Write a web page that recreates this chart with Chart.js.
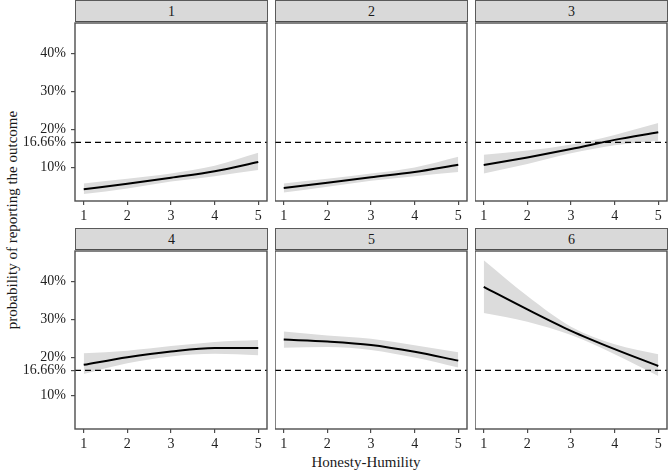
<!DOCTYPE html>
<html>
<head>
<meta charset="utf-8">
<script src="https://cdn.jsdelivr.net/npm/chart.js@4/dist/chart.umd.min.js"></script>
<style>
  body { margin: 0; background: #fff; }
  #wrap { position: relative; width: 668px; height: 470px; font-family: "Liberation Serif", "DejaVu Serif", serif; color: #1a1a1a; }
  canvas { position: absolute; }
  .strip { position: absolute; height: 22px; background: #d9d9d9; border: 1px solid #5a5a5a; border-bottom: 1.5px solid #4d4d4d; box-sizing: border-box; text-align: center; font-size: 14px; line-height: 22px; }
  .title { position: absolute; font-size: 15px; white-space: nowrap; }
</style>
</head>
<body>
<div id="wrap">
  <div class="title" id="xtitle" style="left:366px; top:462px; transform:translate(-50%,-50%);">Honesty-Humility</div>
  <div class="title" id="ytitle" style="left:12px; top:220px; transform:translate(-50%,-50%) rotate(-90deg);">probability of reporting the outcome</div>
</div>
<script>
// ---- data ----
const panels = ['1', '2', '3', '4', '5', '6'];
const hh = [1, 2, 3, 4, 5];            // Honesty-Humility
const xTicks = [1, 2, 3, 4, 5];
const yTicks = [10, 16.66, 20, 30, 40];
const chance = 16.66;

// predicted probability (%) per panel, with lower / upper band
const fit = [
  [4.4, 5.8, 7.4, 9.1, 11.5],
  [4.7, 6.1, 7.5, 8.9, 10.8],
  [10.7, 12.7, 14.9, 17.3, 19.3],
  [18.1, 20.1, 21.6, 22.5, 22.5],
  [24.7, 24.2, 23.3, 21.5, 19.2],
  [38.5, 32.6, 27.0, 22.2, 17.8]
];
const lower = [
  [3.1, 4.6, 6.4, 7.8, 9.4],
  [3.5, 5.0, 6.6, 7.8, 8.9],
  [8.5, 11.0, 13.8, 15.9, 17.1],
  [15.7, 18.5, 20.3, 21.0, 20.6],
  [22.6, 22.8, 22.0, 20.0, 17.4],
  [31.7, 29.4, 25.9, 20.9, 15.2]
];
const upper = [
  [5.9, 7.1, 8.5, 10.5, 13.9],
  [5.9, 7.1, 8.5, 10.1, 12.9],
  [13.4, 14.5, 16.1, 18.6, 21.7],
  [21.1, 21.8, 23.0, 24.1, 24.6],
  [26.8, 25.8, 24.9, 23.2, 21.4],
  [45.5, 36.1, 28.1, 23.5, 20.9]
];

// ---- layout ----
const colLeft = [75, 275, 475];
const rowTop = [23, 251];
const plotW = 192, plotH = 178;
const yAxisW = 75, xAxisH = 30, pad = 2;
const tickFont = { family: '"Liberation Serif", serif', size: 14 };

const toPts = arr => arr.map((v, i) => ({ x: hh[i], y: v }));

// draws the panel border and the dashed 16.66% line
const panelDeco = {
  id: 'panelDeco',
  afterDatasetsDraw(chart) {
    const { ctx, chartArea: a, scales } = chart;
    const y = scales.y.getPixelForValue(chance);
    ctx.save();
    ctx.strokeStyle = '#000';
    ctx.lineWidth = 1.2;
    ctx.setLineDash([6, 4]);
    ctx.beginPath();
    ctx.moveTo(a.left, y);
    ctx.lineTo(a.right, y);
    ctx.stroke();
    ctx.setLineDash([]);
    ctx.strokeStyle = '#4d4d4d';
    ctx.lineWidth = 1.4;
    ctx.strokeRect(a.left, a.top, a.right - a.left, a.bottom - a.top);
    ctx.restore();
  }
};

const wrap = document.getElementById('wrap');

function drawPanels() {
  panels.forEach((name, k) => {
    const col = k % 3, row = Math.floor(k / 3);
    const first = col === 0;

    const strip = document.createElement('div');
    strip.className = 'strip';
    strip.style.left = colLeft[col] + 'px';
    strip.style.top = (rowTop[row] - 23) + 'px';
    strip.style.width = (plotW + 1) + 'px';
    strip.textContent = name;
    wrap.appendChild(strip);

    const cv = document.createElement('canvas');
    cv.width = (first ? yAxisW : 0) + plotW + pad;
    cv.height = plotH + xAxisH + pad;
    cv.style.left = (first ? 0 : colLeft[col]) + 'px';
    cv.style.top = (rowTop[row] - pad) + 'px';
    wrap.appendChild(cv);

    new Chart(cv.getContext('2d'), {
      type: 'line',
      data: {
        datasets: [
          { data: toPts(fit[k]), borderColor: '#000', borderWidth: 2, pointRadius: 0, fill: false, cubicInterpolationMode: 'monotone' },
          { data: toPts(upper[k]), borderWidth: 0, pointRadius: 0, backgroundColor: '#dcdcdc', fill: '+1', cubicInterpolationMode: 'monotone' },
          { data: toPts(lower[k]), borderWidth: 0, pointRadius: 0, fill: false, cubicInterpolationMode: 'monotone' }
        ]
      },
      options: {
        responsive: false,
        animation: false,
        layout: { padding: { top: pad, right: pad, left: 0, bottom: 0 } },
        plugins: { legend: { display: false }, tooltip: { enabled: false } },
        scales: {
          x: {
            type: 'linear', min: 0.8, max: 5.2,
            afterBuildTicks: s => { s.ticks = xTicks.map(v => ({ value: v })); },
            afterFit: s => { s.height = xAxisH; s.paddingLeft = 0; s.paddingRight = 0; },
            grid: { drawOnChartArea: false, drawTicks: true, tickLength: 4, color: '#4d4d4d', lineWidth: 1.2 },
            border: { display: false },
            ticks: { color: '#222', padding: 3, maxRotation: 0, font: tickFont }
          },
          y: {
            display: first,
            min: 1.3, max: 47.9,
            afterBuildTicks: s => { s.ticks = yTicks.map(v => ({ value: v })); },
            afterFit: s => { s.width = first ? yAxisW : 0; s.paddingTop = 0; s.paddingBottom = 0; },
            grid: { drawOnChartArea: false, drawTicks: true, tickLength: 4, color: '#4d4d4d', lineWidth: 1.2 },
            border: { display: false },
            ticks: {
              color: '#222', padding: 5, autoSkip: false,
              font: tickFont,
              callback: v => (v === chance ? '16.66' : v) + '%'
            }
          }
        }
      },
      plugins: [panelDeco]
    });
  });
}

// make sure the serif font is ready before the canvases draw text
document.fonts.load('14px "Liberation Serif"').then(drawPanels, drawPanels);
</script>
</body>
</html>
